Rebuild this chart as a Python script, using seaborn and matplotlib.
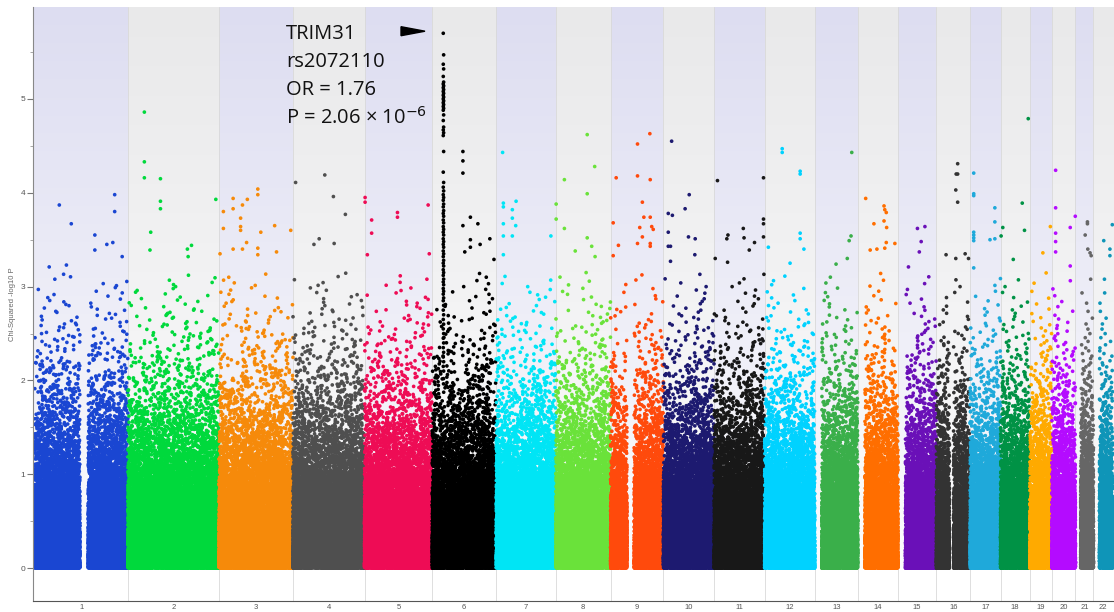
# -*- coding: utf-8 -*-
# Manhattan plot, chi-squared allelic test, TRIM31 peak on chr6
import numpy as np
import pandas as pd
import matplotlib
matplotlib.use('Agg')
import matplotlib.pyplot as plt
import seaborn as sns

# chromosomes: size (Mb, hg19) and colour used in the figure
chrom_names = [str(i) for i in range(1, 23)]
chrom_len_mb = [249.3, 243.2, 198.0, 191.2, 180.9, 171.1, 159.1, 146.4, 141.2, 135.5, 135.0,
                133.9, 115.2, 107.3, 102.5, 90.4, 81.2, 78.1, 59.1, 63.0, 48.1, 51.3]
chrom_colors = ['#1a46d2', '#00d93c', '#f68a0a', '#4f4f4f', '#ee0c55', '#000000', '#00e5f5',
                '#6ae23a', '#ff4a0c', '#1d1a70', '#181818', '#00d2ff', '#3aaf4a', '#ff6e00',
                '#6a10b8', '#333333', '#1fa9da', '#009245', '#ffaa00', '#b40bff', '#666666',
                '#0f95b8']
# markers per chromosome (estimated from how dense the columns look)
snp_counts = [21000, 20500, 17000, 16000, 15000, 14500, 13500, 12000, 10000, 11500, 11500,
              11000, 8200, 7600, 7000, 6500, 6700, 6500, 4900, 5200, 3000, 3000]
# stretches without markers (centromeres / short arms)
gap_chrom = ['1', '9', '13', '14', '15', '16', '21', '22']
gap_start = [121, 44, 0, 0, 0, 35, 0, 0]
gap_end = [143, 63, 19, 19, 20, 46, 14, 16]

# strongest markers: (position Mb, -log10 P)
hits_1 = [(66, 3.87), (98, 3.67), (214, 3.98), (214, 3.80), (161, 3.55), (193, 3.45),
          (209, 3.47), (161, 3.39), (234, 3.32), (39, 3.21), (85, 3.23)]
hits_2 = [(44, 4.86), (44, 4.33), (44, 4.16), (87, 4.15), (87, 3.91), (87, 3.83), (235, 3.93),
          (61, 3.58), (59, 3.39), (170, 3.44), (159, 3.40), (161, 3.32)]
hits_3 = [(104, 4.04), (104, 3.98), (76, 3.93), (38, 3.94), (38, 3.83), (12, 3.80), (63, 3.87),
          (58, 3.73), (58, 3.64), (58, 3.60), (12, 3.62), (149, 3.65), (112, 3.58), (74, 3.47),
          (38, 3.40), (63, 3.40), (104, 3.41), (104, 3.34), (192, 3.60), (154, 3.37), (3, 3.35)]
hits_4 = [(7, 4.11), (85, 4.19), (108, 3.96), (140, 3.77), (70, 3.51), (56, 3.45), (110, 3.46)]
hits_5 = [(1.5, 3.95), (1.5, 3.90), (88, 3.79), (88, 3.74), (170, 3.87), (19, 3.71),
          (19, 3.57), (7.5, 3.34), (173, 3.35)]
hits_6 = [(82, 4.44), (82, 4.34), (82, 4.21), (102, 3.74), (122, 3.67), (82, 3.65), (102, 3.50),
          (102, 3.42), (128, 3.45), (154, 3.51), (87, 3.37), (165, 3.29)]
hits_7 = [(17, 4.43), (19, 3.89), (19, 3.85), (53, 3.91), (43, 3.82), (43, 3.73), (52, 3.65),
          (19, 3.67), (19, 3.54), (43, 3.54), (146, 3.54), (19, 3.34)]
hits_8 = [(1, 3.88), (84, 4.62), (104, 4.28), (23, 4.14), (84, 3.99), (23, 3.62), (84, 3.52),
          (1, 3.72), (96, 3.43), (105, 3.32), (52, 3.38)]
hits_9 = [(105, 4.63), (72, 4.52), (15, 4.16), (72, 4.18), (106, 4.14), (85, 3.90), (89, 3.74),
          (106, 3.74), (7, 3.68), (110, 3.64), (114, 3.61), (78, 3.63), (85, 3.53), (21, 3.44),
          (72, 3.46), (106, 3.46), (106, 3.43), (7, 3.33)]
hits_10 = [(22, 4.55), (69, 3.98), (58, 3.83), (13, 3.78), (24, 3.76), (13, 3.58), (67, 3.53),
           (85, 3.51), (13, 3.43), (19, 3.43), (84, 3.34), (19, 3.27)]
hits_11 = [(9, 4.13), (132, 4.16), (132, 3.72), (132, 3.67), (78, 3.62), (37, 3.55), (34, 3.51),
           (80, 3.52), (132, 3.53), (108, 3.47), (94, 3.39), (3, 3.30), (36, 3.26)]
hits_12 = [(47, 4.47), (47, 4.43), (95, 4.23), (95, 4.20), (95, 3.57), (95, 3.51), (105, 3.40),
           (10, 3.42), (68, 3.25)]
hits_13 = [(99, 4.43), (97, 3.54), (92, 3.49), (57, 3.24), (87, 3.30)]
hits_14 = [(21, 3.94), (70, 3.86), (72, 3.82), (76, 3.79), (70, 3.70), (43, 3.67), (77, 3.63),
           (76, 3.47), (99, 3.46), (51, 3.40), (33, 3.39), (72, 3.41)]
hits_15 = [(52, 3.62), (72, 3.64), (62, 3.48), (57, 3.37), (28, 3.21)]
hits_16 = [(57, 4.31), (53, 4.20), (57, 4.20), (52, 4.03), (57, 3.90), (26, 3.34), (52, 3.30),
           (77, 3.35), (86, 3.30)]
hits_17 = [(9.5, 4.21), (9.5, 3.99), (9.5, 3.97), (9.5, 3.58), (9.5, 3.55), (9.5, 3.52),
           (9.5, 3.49), (66, 3.84), (66, 3.69), (53, 3.50), (66, 3.51), (9.5, 3.20)]
hits_18 = [(74, 4.79), (58, 3.89), (6, 3.63), (64, 3.60), (1.5, 3.54), (34, 3.29)]
hits_19 = [(55, 3.64), (35, 3.36)]
hits_20 = [(10, 4.24), (10, 3.84), (62.5, 3.75), (49, 3.63), (10, 3.57), (10, 3.48), (10, 3.37),
           (49, 3.22)]
hits_21 = [(32, 3.69), (32, 3.67), (26, 3.55), (33, 3.40), (39, 3.36), (42, 3.33)]
hits_22 = [(50.4, 3.66), (27.5, 3.49), (44, 3.40), (44, 3.33)]
all_hits = [hits_1, hits_2, hits_3, hits_4, hits_5, hits_6, hits_7, hits_8, hits_9, hits_10,
            hits_11, hits_12, hits_13, hits_14, hits_15, hits_16, hits_17, hits_18, hits_19,
            hits_20, hits_21, hits_22]

# MHC column on chr6 (TRIM31, rs2072110)
mhc_pos = [29.5, 30.5]
mhc_logp = [5.70, 5.47, 5.37, 5.32, 5.24, 5.18, 5.16, 5.14, 5.12, 5.10, 5.08, 5.06, 5.04, 5.02,
            5.00, 4.98, 4.96, 4.94, 4.92, 4.90, 4.88, 4.83, 4.77, 4.70, 4.67, 4.64, 4.61, 4.44,
            4.22, 4.11, 4.06, 4.02, 3.98, 3.95, 3.92, 3.88, 3.85, 3.81, 3.78, 3.75, 3.71, 3.68,
            3.64, 3.61, 3.58, 3.55, 3.51, 3.48, 3.45, 3.42, 3.38, 3.35, 3.32, 3.28, 3.25, 3.22,
            3.18, 3.15, 3.12, 3.08, 3.05, 3.02, 2.98, 2.95, 2.92, 2.88, 2.85, 2.8, 2.75, 2.7,
            2.65, 2.6, 2.55, 2.5, 2.45, 2.4, 2.35, 2.3, 2.25, 2.2, 2.15, 2.1]

# 基本布局
plt.rcParams['figure.dpi'] = 100
sns.set_style('white')
plt.rcParams['font.family'] = ['Liberation Sans', 'DejaVu Sans']

offsets = np.concatenate([[0], np.cumsum(chrom_len_mb)[:-1]])
ends = offsets + np.array(chrom_len_mb)
centres = (offsets + ends) / 2
x_left, x_right = -3.5, 2884.6
y_bottom, y_top = -0.35, 5.98
cap = 3.15

# bulk of markers: expected null quantiles, spread along the chromosome by a
# fixed sine hash of the rank (no lattice, same picture on every run)
body = []
for name, length, n, off in zip(chrom_names, chrom_len_mb, snp_counts, offsets):
    segs = [(0.0, length)]
    for gc, a, b in zip(gap_chrom, gap_start, gap_end):
        if gc != name:
            continue
        new = []
        for s, e in segs:
            if b <= s or a >= e:
                new.append((s, e))
                continue
            if a > s:
                new.append((s, a))
            if b < e:
                new.append((b, e))
        segs = new
    seg_s = np.array([s for s, e in segs])
    seg_l = np.array([e - s for s, e in segs])
    total = seg_l.sum()
    cum = np.concatenate([[0], np.cumsum(seg_l)]) / total
    k = np.arange(n, dtype=float)
    logp = -np.log10((k + 0.5) / n)
    u = (np.sin(k * 12.9898 + int(name) * 78.233) * 43758.5453) % 1.0
    idx = np.clip(np.searchsorted(cum, u, side='right') - 1, 0, len(segs) - 1)
    pos = seg_s[idx] + (u - cum[idx]) * total
    keep = logp <= cap
    body.append(pd.DataFrame({'chrom': name, 'x': off + pos[keep], 'logp': logp[keep]}))
body = pd.concat(body, ignore_index=True)

hit_rows = []
for name, off, hits in zip(chrom_names, offsets, all_hits):
    for p, val in hits:
        hit_rows.append((name, off + p, val))
for i, val in enumerate(mhc_logp):
    hit_rows.append(('6', offsets[5] + mhc_pos[i % 2], val))
hits_df = pd.DataFrame(hit_rows, columns=['chrom', 'x', 'logp'])

palette = dict(zip(chrom_names, chrom_colors))

fig = plt.figure(figsize=(11.14, 6.12))
ax = fig.add_axes([33.3 / 1114, 11 / 612, 1 - 33.3 / 1114, 594 / 612])

# background bands: lavender / grey, fading to white towards 0
t = np.linspace(0, 1, 256)[:, None, None]
white = np.array([252, 252, 253]) / 255
lav = np.array([221, 221, 241]) / 255
grey = np.array([233, 233, 234]) / 255
for i in range(22):
    top = lav if i % 2 == 0 else grey
    img = white * (1 - t) + top * t
    a = x_left if i == 0 else offsets[i]
    b = x_right if i == 21 else ends[i]
    ax.imshow(img, extent=(a, b, 0, y_top), origin='lower', aspect='auto', zorder=0)
for b in offsets[1:]:
    ax.axvline(b, color='#d9d9d9', lw=0.6, zorder=1)

sns.scatterplot(data=body, x='x', y='logp', hue='chrom', palette=palette, s=7, linewidth=0,
                legend=False, ax=ax, zorder=2)
sns.scatterplot(data=hits_df, x='x', y='logp', hue='chrom', palette=palette, s=7, linewidth=0,
                legend=False, ax=ax, zorder=3)

ax.set_xlim(x_left, x_right)
ax.set_ylim(y_bottom, y_top)
ax.set_xlabel('')
ax.set_ylabel('Chi-Squared -log10 P', fontsize=5.5, color='#666666', labelpad=3)

ax.set_xticks(list(offsets[1:]))
ax.set_xticklabels([])
ax.set_xticks(list(centres), minor=True)
ax.set_xticklabels(chrom_names, minor=True)
ax.tick_params(axis='x', which='major', length=2, width=0.8, color='#555555', direction='out')
ax.tick_params(axis='x', which='minor', length=0, labelsize=5.5, labelcolor='#555555', pad=2)
ax.set_yticks(range(0, 6))
ax.set_yticks(np.arange(0.5, 6, 0.5), minor=True)
ax.tick_params(axis='y', which='major', length=4, width=0.8, color='#777777', labelsize=6,
               labelcolor='#555555', pad=2, left=True)
ax.tick_params(axis='y', which='minor', length=2, width=0.6, color='#999999', left=True)
for side in ['top', 'right']:
    ax.spines[side].set_visible(False)
ax.spines['left'].set_color('#888888')
ax.spines['bottom'].set_color('#555555')
ax.spines['left'].set_linewidth(0.8)
ax.spines['bottom'].set_linewidth(0.8)

# annotation for the top SNP
ann = dict(fontsize=14.5, family=['Open Sans', 'DejaVu Sans'], color='#111111', va='baseline',
           ha='left', zorder=5)
ax.text(671.8, 5.644, 'TRIM31', **ann)
ax.text(671.8, 5.342, 'rs2072110', **ann)
ax.text(671.8, 5.040, 'OR = 1.76', **ann)
ax.text(671.8, 4.739, 'P = 2.06 × 10$^{-6}$', **ann)
ax.arrow(979.2, 5.722, 64.1, 0, width=0, head_width=0.096, head_length=64.1,
         length_includes_head=True, color='black', zorder=5)

fig.savefig('out.png', dpi=100)
